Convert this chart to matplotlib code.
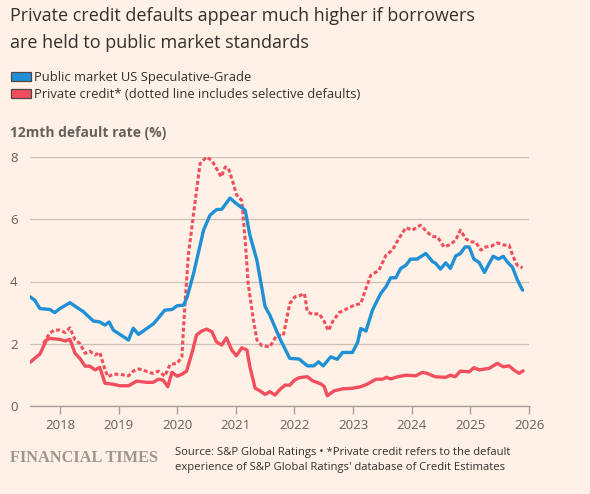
import matplotlib
matplotlib.use("Agg")
import matplotlib.pyplot as plt
from matplotlib.patches import Rectangle

# decimal years and 12mth default rates (%)
public_x = [2017.49, 2017.57, 2017.66, 2017.83, 2017.91, 2018.0, 2018.17, 2018.4,
            2018.57, 2018.68, 2018.77, 2018.84, 2018.91, 2019.17, 2019.25, 2019.34,
            2019.6, 2019.79, 2019.91, 2020.0, 2020.11, 2020.17, 2020.28, 2020.45,
            2020.56, 2020.67, 2020.76, 2020.9, 2021.01, 2021.16, 2021.24, 2021.36,
            2021.5, 2021.58, 2021.75, 2021.92, 2022.08, 2022.22, 2022.33, 2022.41,
            2022.49, 2022.62, 2022.73, 2022.82, 2022.99, 2023.08, 2023.13, 2023.22,
            2023.33, 2023.47, 2023.56, 2023.64, 2023.73, 2023.81, 2023.9, 2023.98,
            2024.09, 2024.24, 2024.35, 2024.41, 2024.49, 2024.58, 2024.66, 2024.75,
            2024.83, 2024.91, 2024.98, 2025.06, 2025.15, 2025.24, 2025.32, 2025.39,
            2025.48, 2025.56, 2025.63, 2025.72, 2025.8, 2025.89]
public_y = [3.51, 3.4, 3.13, 3.1, 3.0, 3.13, 3.32, 3.03,
            2.73, 2.7, 2.6, 2.7, 2.44, 2.12, 2.5, 2.3,
            2.65, 3.08, 3.1, 3.22, 3.24, 3.5, 4.26, 5.65,
            6.13, 6.31, 6.32, 6.68, 6.5, 6.29, 5.49, 4.68,
            3.19, 2.92, 2.17, 1.53, 1.51, 1.29, 1.29, 1.42,
            1.29, 1.58, 1.5, 1.72, 1.72, 2.06, 2.49, 2.41,
            3.08, 3.61, 3.83, 4.12, 4.12, 4.42, 4.52, 4.72,
            4.72, 4.9, 4.65, 4.58, 4.4, 4.6, 4.42, 4.82,
            4.9, 5.11, 5.11, 4.72, 4.61, 4.29, 4.58, 4.81,
            4.72, 4.81, 4.63, 4.45, 4.06, 3.72]

private_x = [2017.49, 2017.57, 2017.66, 2017.77, 2017.83, 2018.0, 2018.09, 2018.17,
             2018.26, 2018.34, 2018.43, 2018.51, 2018.6, 2018.68, 2018.77, 2018.91,
             2019.02, 2019.17, 2019.31, 2019.48, 2019.59, 2019.68, 2019.76, 2019.84,
             2019.91, 2020.0, 2020.08, 2020.16, 2020.25, 2020.33, 2020.42, 2020.5,
             2020.59, 2020.67, 2020.76, 2020.84, 2020.93, 2021.01, 2021.1, 2021.19,
             2021.24, 2021.33, 2021.41, 2021.5, 2021.58, 2021.67, 2021.75, 2021.84,
             2021.92, 2022.0, 2022.08, 2022.22, 2022.31, 2022.45, 2022.51, 2022.56,
             2022.68, 2022.82, 2022.99, 2023.13, 2023.24, 2023.39, 2023.5, 2023.57,
             2023.64, 2023.76, 2023.9, 2024.07, 2024.18, 2024.26, 2024.4, 2024.58,
             2024.66, 2024.74, 2024.83, 2024.98, 2025.06, 2025.15, 2025.32, 2025.46,
             2025.56, 2025.66, 2025.74, 2025.83, 2025.9]
private_y = [1.4, 1.53, 1.67, 2.12, 2.17, 2.14, 2.09, 2.14,
             1.69, 1.53, 1.28, 1.28, 1.16, 1.24, 0.73, 0.7,
             0.65, 0.65, 0.8, 0.76, 0.76, 0.86, 0.83, 0.62,
             1.08, 0.96, 1.02, 1.12, 1.69, 2.28, 2.41, 2.47,
             2.39, 2.06, 1.96, 2.19, 1.8, 1.61, 1.87, 1.8,
             1.26, 0.57, 0.49, 0.37, 0.46, 0.35, 0.53, 0.67,
             0.67, 0.83, 0.91, 0.94, 0.81, 0.71, 0.62, 0.33,
             0.49, 0.55, 0.57, 0.62, 0.7, 0.86, 0.86, 0.92,
             0.87, 0.94, 0.99, 0.97, 1.08, 1.05, 0.94, 0.92,
             0.99, 0.94, 1.12, 1.1, 1.23, 1.16, 1.21, 1.37,
             1.26, 1.29, 1.16, 1.05, 1.13]

selective_x = [2017.72, 2017.83, 2017.91, 2018.0, 2018.09, 2018.17, 2018.26, 2018.34,
               2018.43, 2018.51, 2018.6, 2018.68, 2018.77, 2018.82, 2018.91, 2019.02,
               2019.17, 2019.25, 2019.34, 2019.42, 2019.51, 2019.59, 2019.68, 2019.79,
               2019.88, 2020.0, 2020.08, 2020.13, 2020.19, 2020.28, 2020.39, 2020.5,
               2020.59, 2020.67, 2020.75, 2020.82, 2020.87, 2020.96, 2021.01, 2021.1,
               2021.16, 2021.21, 2021.3, 2021.36, 2021.44, 2021.58, 2021.7, 2021.81,
               2021.92, 2022.01, 2022.08, 2022.17, 2022.22, 2022.31, 2022.42, 2022.51,
               2022.58, 2022.65, 2022.76, 2022.9, 2023.02, 2023.13, 2023.22, 2023.3,
               2023.44, 2023.56, 2023.67, 2023.78, 2023.9, 2024.01, 2024.15, 2024.26,
               2024.35, 2024.44, 2024.55, 2024.66, 2024.75, 2024.83, 2024.92, 2025.0,
               2025.09, 2025.18, 2025.26, 2025.35, 2025.46, 2025.57, 2025.66, 2025.72,
               2025.8, 2025.89]
selective_y = [2.01, 2.35, 2.44, 2.44, 2.36, 2.51, 2.12, 2.01,
               1.69, 1.76, 1.64, 1.72, 1.16, 0.94, 1.02, 1.02,
               0.97, 1.12, 1.19, 1.16, 1.08, 1.05, 1.12, 0.96,
               1.34, 1.37, 1.58, 3.19, 4.84, 6.18, 7.79, 8.0,
               7.89, 7.63, 7.36, 7.68, 7.65, 7.14, 6.79, 6.61,
               5.33, 3.94, 2.76, 2.12, 1.94, 1.9, 2.28, 2.26,
               3.29, 3.51, 3.54, 3.61, 3.03, 2.94, 2.97, 2.71,
               2.42, 2.71, 3.0, 3.13, 3.24, 3.29, 3.78, 4.2,
               4.36, 4.84, 5.01, 5.38, 5.73, 5.65, 5.81, 5.59,
               5.45, 5.43, 5.11, 5.19, 5.33, 5.65, 5.38, 5.27,
               5.27, 5.01, 5.11, 5.13, 5.24, 5.17, 5.17, 4.84,
               4.52, 4.44]

years = [2018, 2019, 2020, 2021, 2022, 2023, 2024, 2025, 2026]
yticks = [0, 2, 4, 6, 8]

BG = "#fff1e5"
BLUE = "#1f8fd6"
RED = "#f34e5e"
TEXT = "#33302e"
GREY = "#66605c"

plt.rcParams["font.family"] = ["Open Sans", "DejaVu Sans"]

fig = plt.figure(figsize=(5.9, 4.94), dpi=100, facecolor=BG)
ax = fig.add_axes([30 / 590, 1 - 406 / 494, 499 / 590, 249 / 494])
ax.set_facecolor(BG)

ax.plot(selective_x, selective_y, color=RED, lw=2.2, ls=(0, (1.3, 0.8)), zorder=3)
ax.plot(private_x, private_y, color=RED, lw=2.4, zorder=4, solid_capstyle="round")
ax.plot(public_x, public_y, color=BLUE, lw=2.4, zorder=5, solid_capstyle="round")

ax.set_xlim(2017.49, 2026.0)
ax.set_ylim(0, 8)
ax.set_xticks(years)
ax.set_xticklabels([str(y) for y in years])
ax.set_yticks(yticks)
ax.set_yticklabels([str(v) for v in yticks])
ax.grid(axis="y", color="#ccc1b7", lw=0.9)
ax.set_axisbelow(True)
for side in ["top", "right", "left"]:
    ax.spines[side].set_visible(False)
ax.spines["bottom"].set_color("#a7a09a")
ax.spines["bottom"].set_linewidth(1.0)
ax.spines["bottom"].set_zorder(6)
ax.tick_params(axis="x", length=6, width=1, color="#a7a09a", labelsize=9.5,
               labelcolor=GREY, pad=3)
ax.tick_params(axis="y", length=0, labelsize=9.5, labelcolor=GREY, pad=9)

fig.text(10 / 590, 1 - 7 / 494,
         "Private credit defaults appear much higher if borrowers\n"
         "are held to public market standards",
         ha="left", va="top", fontsize=13, color=TEXT, linespacing=1.62)

# legend boxes
for i, (col, label) in enumerate([(BLUE, "Public market US Speculative-Grade"),
                                  (RED, "Private credit* (dotted line includes selective defaults)")]):
    yc = 1 - (77 + i * 17) / 494
    fig.patches.append(Rectangle((11 / 590, yc - 4.5 / 494), 20 / 590, 9 / 494,
                                 transform=fig.transFigure, facecolor=col,
                                 edgecolor="#4d4845", lw=0.9))
    fig.text(34 / 590, yc, label, ha="left", va="center", fontsize=9.4, color=TEXT)

fig.text(10 / 590, 1 - 133 / 494, "12mth default rate (%)", ha="left", va="center",
         fontsize=10, color=GREY, fontweight="bold")

fig.text(10 / 590, 1 - 458 / 494, "FINANCIAL TIMES", ha="left", va="center",
         fontsize=11.8, color="#9e9690", family=["Liberation Serif", "DejaVu Serif"],
         fontweight="bold")
fig.text(175 / 590, 1 - 460 / 494,
         "Source: S&P Global Ratings \u2022 *Private credit refers to the default\n"
         "experience of S&P Global Ratings' database of Credit Estimates",
         ha="left", va="center", fontsize=8.1, color=TEXT, linespacing=1.45)

fig.savefig("out.png", dpi=100, facecolor=BG)
